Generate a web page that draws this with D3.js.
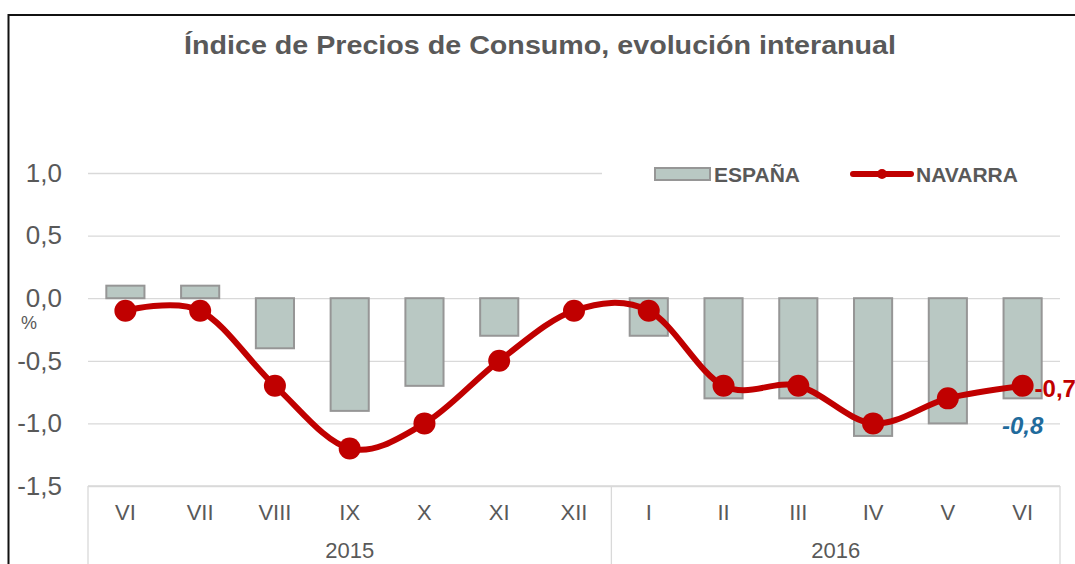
<!DOCTYPE html>
<html>
<head>
<meta charset="utf-8">
<script src="https://cdn.jsdelivr.net/npm/d3@7"></script>
<style>
    body { margin: 0; background: #fff; }
    text { font-family: "Liberation Sans", Arial, sans-serif; }
</style>
</head>
<body>
<svg id="chart" width="1075" height="564"></svg>
<script>
const months = ['VI', 'VII', 'VIII', 'IX', 'X', 'XI', 'XII', 'I', 'II', 'III', 'IV', 'V', 'VI'];
const years = ['2015', '2015', '2015', '2015', '2015', '2015', '2015', '2016', '2016', '2016', '2016', '2016', '2016'];
const espana = [0.1, 0.1, -0.4, -0.9, -0.7, -0.3, 0.0, -0.3, -0.8, -0.8, -1.1, -1.0, -0.8];
const navarra = [-0.1, -0.1, -0.7, -1.2, -1.0, -0.5, -0.1, -0.1, -0.7, -0.7, -1.0, -0.8, -0.7];
const yTicks = [1.0, 0.5, 0.0, -0.5, -1.0, -1.5];

const grey = '#595959';
const red = '#c00000';
const fmt = (v) => d3.format('.1f')(v).replace('.', ',').replace('−', '-');

const svg = d3.select('#chart');
const plotLeft = 88, plotRight = 1060, plotTop = 173, plotBottom = 486;

// outer frame
svg.append('path')
    .attr('d', 'M8.5,564V15H1075')
    .attr('fill', 'none')
    .attr('stroke', '#111')
    .attr('stroke-width', 2);

svg.append('text')
    .attr('x', 540)
    .attr('y', 54)
    .attr('text-anchor', 'middle')
    .attr('font-size', 26)
    .attr('font-weight', 'bold')
    .attr('fill', grey)
    .attr('textLength', 712)
    .attr('lengthAdjust', 'spacingAndGlyphs')
    .text('Índice de Precios de Consumo, evolución interanual');

const idx = months.map((m, i) => i);
const x = d3.scaleBand().domain(idx).range([plotLeft, plotRight]).paddingInner(0.49).paddingOuter(0.245);
const xc = (i) => x(i) + x.bandwidth() / 2;
const y = d3.scaleLinear().domain([-1.5, 1.0]).range([plotBottom, plotTop]);

// y axis: gridlines + labels
const yAxis = svg.append('g')
    .attr('transform', `translate(${plotLeft},0)`)
    .call(d3.axisLeft(y).tickValues(yTicks).tickSize(-(plotRight - plotLeft)).tickPadding(26).tickFormat(fmt));
yAxis.select('.domain').remove();
yAxis.selectAll('.tick line').attr('stroke', '#d9d9d9').attr('stroke-width', 1.3);
yAxis.selectAll('.tick text').attr('font-size', 26).attr('fill', grey).attr('font-family', '"Liberation Sans", Arial, sans-serif');

svg.append('text')
    .attr('x', 21)
    .attr('y', 329)
    .attr('font-size', 18)
    .attr('fill', grey)
    .text('%');

// category box
const box = svg.append('g').attr('stroke', '#d9d9d9').attr('stroke-width', 1.3).attr('fill', 'none');
box.append('line').attr('x1', plotLeft).attr('x2', plotRight).attr('y1', plotBottom).attr('y2', plotBottom);
const split = (x(6) + x.bandwidth() + x(7)) / 2;
[plotLeft, split, plotRight].forEach((px) => {
    box.append('line').attr('x1', px).attr('x2', px).attr('y1', plotBottom).attr('y2', 564);
});

svg.append('g').selectAll('text')
    .data(months)
    .join('text')
    .attr('x', (d, i) => xc(i))
    .attr('y', 520)
    .attr('text-anchor', 'middle')
    .attr('font-size', 22)
    .attr('fill', grey)
    .text((d) => d);

const yearGroups = d3.groups(idx, (i) => years[i]);
svg.append('g').selectAll('text')
    .data(yearGroups)
    .join('text')
    .attr('x', (d) => d[0] === '2015' ? (plotLeft + split) / 2 : (split + plotRight) / 2)
    .attr('y', 558)
    .attr('text-anchor', 'middle')
    .attr('font-size', 22)
    .attr('fill', grey)
    .text((d) => d[0]);

// legend background hides the top gridline
svg.append('rect').attr('x', 602).attr('y', 160).attr('width', 460).attr('height', 30).attr('fill', '#fff');

// bars
const barData = espana.map((v, i) => ({ i, v })).filter((d) => d.v !== 0);
svg.append('g').selectAll('rect')
    .data(barData)
    .join('rect')
    .attr('x', (d) => x(d.i))
    .attr('y', (d) => y(Math.max(0, d.v)))
    .attr('width', x.bandwidth())
    .attr('height', (d) => Math.abs(y(d.v) - y(0)))
    .attr('fill', '#b9c8c3')
    .attr('stroke', '#969696')
    .attr('stroke-width', 2);

// line
const line = d3.line()
    .x((d, i) => xc(i))
    .y((d) => y(d))
    .curve(d3.curveCardinal.tension(0));

svg.append('path')
    .datum(navarra)
    .attr('d', line)
    .attr('fill', 'none')
    .attr('stroke', red)
    .attr('stroke-width', 6)
    .attr('stroke-linejoin', 'round');

svg.append('g').selectAll('circle')
    .data(navarra)
    .join('circle')
    .attr('cx', (d, i) => xc(i))
    .attr('cy', (d) => y(d))
    .attr('r', 11)
    .attr('fill', red);

// end labels
const last = navarra.length - 1;
svg.append('text')
    .attr('x', xc(last) + 12)
    .attr('y', y(navarra[last]) + 11)
    .attr('font-size', 24)
    .attr('font-weight', 'bold')
    .attr('fill', red)
    .text(fmt(navarra[last]));

svg.append('text')
    .attr('x', xc(last))
    .attr('y', y(espana[last]) + 36)
    .attr('text-anchor', 'middle')
    .attr('font-size', 24)
    .attr('font-weight', 'bold')
    .attr('font-style', 'italic')
    .attr('fill', '#1f6b9c')
    .text(fmt(espana[last]));

// legend
const legend = svg.append('g');
legend.append('rect')
    .attr('x', 655).attr('y', 168).attr('width', 55).attr('height', 12)
    .attr('fill', '#b9c8c3').attr('stroke', '#969696').attr('stroke-width', 2);
legend.append('text')
    .attr('x', 714).attr('y', 182)
    .attr('font-size', 21).attr('font-weight', 'bold').attr('fill', grey)
    .text('ESPAÑA');
legend.append('line')
    .attr('x1', 853).attr('x2', 911).attr('y1', 174).attr('y2', 174)
    .attr('stroke', red).attr('stroke-width', 6).attr('stroke-linecap', 'round');
legend.append('circle')
    .attr('cx', 882).attr('cy', 174).attr('r', 5).attr('fill', red);
legend.append('text')
    .attr('x', 916).attr('y', 182)
    .attr('font-size', 21).attr('font-weight', 'bold').attr('fill', grey)
    .text('NAVARRA');
</script>
</body>
</html>
